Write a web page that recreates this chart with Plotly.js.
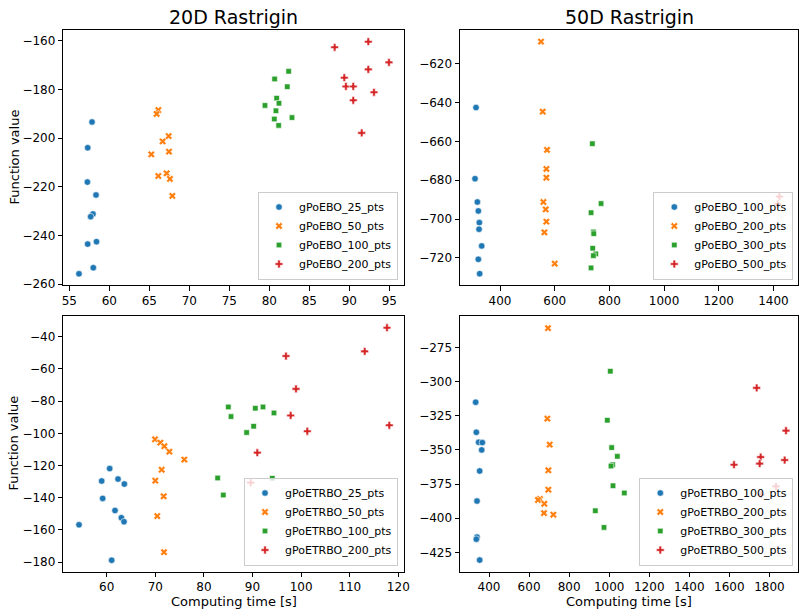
<!DOCTYPE html>
<html>
<head>
<meta charset="utf-8">
<script src="https://cdn.plot.ly/plotly-3.0.1.min.js"></script>
<style>
  html, body { margin: 0; padding: 0; background: #fff; }
  #chart { width: 800px; height: 613px; }
</style>
</head>
<body>
<div id="chart"></div>
<script>
// Run results: computing time [s] and final function value, 10 runs per configuration.

// 20D Rastrigin, gPoEBO
const ebo20_labels = ["gPoEBO_25_pts", "gPoEBO_50_pts", "gPoEBO_100_pts", "gPoEBO_200_pts"];
const ebo20_25_time  = [57.84, 57.30, 57.26, 58.34, 57.96, 57.67, 57.30, 58.40, 58.00, 56.21];
const ebo20_25_val   = [-193.4, -204.0, -218.1, -223.4, -231.2, -232.3, -243.6, -242.6, -253.3, -255.8];
const ebo20_50_time  = [66.13, 65.92, 67.42, 66.67, 65.25, 67.46, 67.17, 66.13, 67.58, 67.88];
const ebo20_50_val   = [-188.5, -190.1, -199.2, -201.4, -206.7, -205.6, -214.5, -215.6, -216.8, -223.8];
const ebo20_100_time = [82.42, 80.67, 82.25, 80.92, 81.21, 79.46, 80.83, 82.84, 80.63, 81.17];
const ebo20_100_val  = [-172.6, -175.7, -178.9, -183.6, -185.7, -186.6, -188.8, -191.6, -192.2, -194.8];
const ebo20_200_time = [88.17, 92.38, 94.96, 92.38, 89.38, 89.58, 90.50, 93.09, 90.50, 91.55];
const ebo20_200_val  = [-162.7, -160.4, -168.9, -171.8, -175.2, -178.8, -178.8, -181.2, -184.5, -197.9];

// 50D Rastrigin, gPoEBO
const ebo50_labels = ["gPoEBO_100_pts", "gPoEBO_200_pts", "gPoEBO_300_pts", "gPoEBO_500_pts"];
const ebo50_100_time = [312.2, 308.5, 317.1, 320.7, 324.4, 323.2, 333.0, 320.7, 325.6];
const ebo50_100_val  = [-642.6, -679.2, -691.2, -695.8, -701.8, -705.2, -713.8, -720.7, -728.1];
const ebo50_200_time = [550.0, 556.1, 572.0, 569.6, 569.6, 558.6, 567.1, 569.6, 562.3, 600.0];
const ebo50_200_val  = [-608.7, -644.7, -664.4, -674.2, -678.7, -691.2, -695.0, -701.3, -706.8, -722.9];
const ebo50_300_time = [737.8, 769.6, 733.0, 741.5, 743.0, 739.1, 750.1, 741.5, 733.0];
const ebo50_300_val  = [-661.2, -692.0, -696.7, -706.6, -707.5, -715.0, -717.9, -718.8, -725.1];
const ebo50_500_time = [1422.1, 1416.0];
const ebo50_500_val  = [-688.4, -692.2];

// 20D Rastrigin, gPoETRBO
const trbo20_labels = ["gPoETRBO_25_pts", "gPoETRBO_50_pts", "gPoETRBO_100_pts", "gPoETRBO_200_pts"];
const trbo20_25_time  = [60.61, 58.97, 62.33, 63.63, 59.17, 61.71, 63.01, 63.56, 54.30, 61.02];
const trbo20_25_val   = [-121.9, -129.6, -128.4, -131.5, -140.4, -147.9, -152.4, -154.9, -156.8, -178.8];
const trbo20_50_time  = [69.94, 71.04, 71.86, 72.89, 75.97, 71.31, 70.00, 71.72, 70.40, 71.79];
const trbo20_50_val   = [-103.7, -105.8, -108.0, -111.4, -116.3, -122.6, -129.4, -139.1, -151.4, -173.8];
const trbo20_100_time = [85.03, 90.58, 92.16, 85.58, 94.42, 90.23, 88.79, 82.83, 94.07, 83.99];
const trbo20_100_val  = [-83.6, -84.4, -83.6, -89.6, -87.3, -95.6, -99.5, -127.7, -127.9, -138.3];
const trbo20_200_time = [117.67, 113.08, 96.89, 98.95, 97.85, 118.15, 101.28, 90.99, 89.62];
const trbo20_200_val  = [-34.4, -49.1, -52.0, -72.4, -88.9, -95.0, -98.7, -112.0, -130.6];

// 50D Rastrigin, gPoETRBO
const trbo50_labels = ["gPoETRBO_100_pts", "gPoETRBO_200_pts", "gPoETRBO_300_pts", "gPoETRBO_500_pts"];
const trbo50_100_time = [333.4, 336.7, 348.4, 366.7, 363.4, 353.4, 340.1, 340.1, 336.7, 353.4];
const trbo50_100_val  = [-315.1, -337.1, -344.4, -344.6, -350.0, -365.4, -387.4, -413.8, -415.3, -430.6];
const trbo50_200_time = [694.6, 691.3, 702.9, 696.3, 696.3, 654.6, 644.6, 676.3, 674.6, 721.2];
const trbo50_200_val  = [-260.9, -327.1, -346.1, -364.9, -379.1, -385.9, -386.6, -389.4, -396.2, -397.4];
const trbo50_300_time = [1005.7, 990.7, 1012.4, 1040.7, 1017.4, 1009.1, 1019.1, 1075.6, 930.9, 974.2];
const trbo50_300_val  = [-292.4, -328.3, -348.3, -354.7, -360.8, -361.8, -376.2, -381.5, -394.5, -406.7];
const trbo50_500_time = [1736.3, 1882.8, 1756.3, 1876.1, 1751.3, 1623.2, 1832.8, 1758.0];
const trbo50_500_val  = [-304.6, -335.9, -355.2, -357.4, -360.0, -360.8, -376.7, -382.8];

const colors  = ["#1f77b4", "#ff7f0e", "#2ca02c", "#d62728"];
const symbols = ["circle", "x", "square", "cross"];
const sizes   = [6.5, 6.5, 5.5, 6.5];
const FONT = "DejaVu Sans, Liberation Sans, sans-serif";

function group(xs, ys, labels, ax, legendId) {
  return xs.map((x, i) => ({
    type: "scatter",
    mode: "markers",
    x: x,
    y: ys[i],
    name: labels[i],
    xaxis: "x" + (ax === 1 ? "" : ax),
    yaxis: "y" + (ax === 1 ? "" : ax),
    legend: legendId,
    marker: {
      color: colors[i],
      symbol: symbols[i],
      size: sizes[i],
      line: { color: "#ffffff", width: 0.6 }
    },
    hoverinfo: "x+y+name"
  }));
}

const traces = [].concat(
  group([ebo20_25_time, ebo20_50_time, ebo20_100_time, ebo20_200_time],
        [ebo20_25_val, ebo20_50_val, ebo20_100_val, ebo20_200_val], ebo20_labels, 1, "legend"),
  group([ebo50_100_time, ebo50_200_time, ebo50_300_time, ebo50_500_time],
        [ebo50_100_val, ebo50_200_val, ebo50_300_val, ebo50_500_val], ebo50_labels, 2, "legend2"),
  group([trbo20_25_time, trbo20_50_time, trbo20_100_time, trbo20_200_time],
        [trbo20_25_val, trbo20_50_val, trbo20_100_val, trbo20_200_val], trbo20_labels, 3, "legend3"),
  group([trbo50_100_time, trbo50_200_time, trbo50_300_time, trbo50_500_time],
        [trbo50_100_val, trbo50_200_val, trbo50_300_val, trbo50_500_val], trbo50_labels, 4, "legend4")
);

const W = 800, H = 613;
const colL = [63.3 / W, 404 / W];
const colR = [460 / W, 798 / W];
const rowT = [1 - 285 / H, 1 - 30 / H];
const rowB = [1 - 571.5 / H, 1 - 315.7 / H];

function axis(domain, range, tick0, dtick, anchor) {
  return {
    domain: domain,
    range: range,
    anchor: anchor,
    tickmode: "linear",
    tick0: tick0,
    dtick: dtick,
    showgrid: false,
    zeroline: false,
    showline: true,
    mirror: true,
    linecolor: "#000000",
    linewidth: 1,
    ticks: "outside",
    ticklen: 4.5,
    tickwidth: 1,
    tickcolor: "#000000",
    tickfont: { family: FONT, size: 12, color: "#000000" },
    automargin: false
  };
}

function legendBox(x, y) {
  return {
    x: x, y: y, xref: "paper", yref: "paper",
    xanchor: "right", yanchor: "bottom",
    bgcolor: "rgba(255,255,255,0.8)",
    bordercolor: "#cccccc",
    borderwidth: 1,
    font: { family: FONT, size: 11, color: "#000000" },
    tracegroupgap: 0,
    itemclick: false
  };
}

const layout = {
  width: W,
  height: H,
  margin: { l: 0, r: 0, t: 0, b: 0, pad: 0 },
  paper_bgcolor: "#ffffff",
  plot_bgcolor: "#ffffff",
  font: { family: FONT, color: "#000000" },
  xaxis:  axis(colL, [54.25, 96.84], 55, 5, "y"),
  yaxis:  axis(rowT, [-260.4, -155.6], -260, 20, "x"),
  xaxis2: axis(colR, [253.6, 1490], 400, 200, "y2"),
  yaxis2: axis(rowT, [-733.9, -602.7], -720, 20, "x2"),
  xaxis3: axis(colL, [51.07, 121.17], 60, 10, "y3"),
  yaxis3: axis(rowB, [-185.8, -26.95], -180, 20, "x3"),
  xaxis4: axis(colR, [255.2, 1942.7], 400, 200, "y4"),
  yaxis4: axis(rowB, [-438.95, -251.8], -425, 25, "x4"),
  showlegend: true,
  legend:  legendBox(398 / W, 1 - 279.5 / H),
  legend2: legendBox(793.3 / W, 1 - 279.5 / H),
  legend3: legendBox(398 / W, 1 - 565.5 / H),
  legend4: legendBox(793.3 / W, 1 - 565.5 / H),
  annotations: [
    { text: "20D Rastrigin", x: (colL[0] + colL[1]) / 2, y: 1 - 17 / H, xref: "paper", yref: "paper",
      xanchor: "center", yanchor: "middle", showarrow: false, font: { family: FONT, size: 19, color: "#000" } },
    { text: "50D Rastrigin", x: (colR[0] + colR[1]) / 2, y: 1 - 17 / H, xref: "paper", yref: "paper",
      xanchor: "center", yanchor: "middle", showarrow: false, font: { family: FONT, size: 19, color: "#000" } },
    { text: "Function value", x: 14 / W, y: (rowT[0] + rowT[1]) / 2, xref: "paper", yref: "paper",
      textangle: -90, xanchor: "center", yanchor: "middle", showarrow: false, font: { family: FONT, size: 13, color: "#000" } },
    { text: "Function value", x: 14 / W, y: (rowB[0] + rowB[1]) / 2, xref: "paper", yref: "paper",
      textangle: -90, xanchor: "center", yanchor: "middle", showarrow: false, font: { family: FONT, size: 13, color: "#000" } },
    { text: "Computing time [s]", x: (colL[0] + colL[1]) / 2, y: 1 - 601 / H, xref: "paper", yref: "paper",
      xanchor: "center", yanchor: "middle", showarrow: false, font: { family: FONT, size: 13, color: "#000" } },
    { text: "Computing time [s]", x: (colR[0] + colR[1]) / 2, y: 1 - 601 / H, xref: "paper", yref: "paper",
      xanchor: "center", yanchor: "middle", showarrow: false, font: { family: FONT, size: 13, color: "#000" } }
  ]
};

Plotly.newPlot("chart", traces, layout, { displayModeBar: false, staticPlot: false });
</script>
</body>
</html>
